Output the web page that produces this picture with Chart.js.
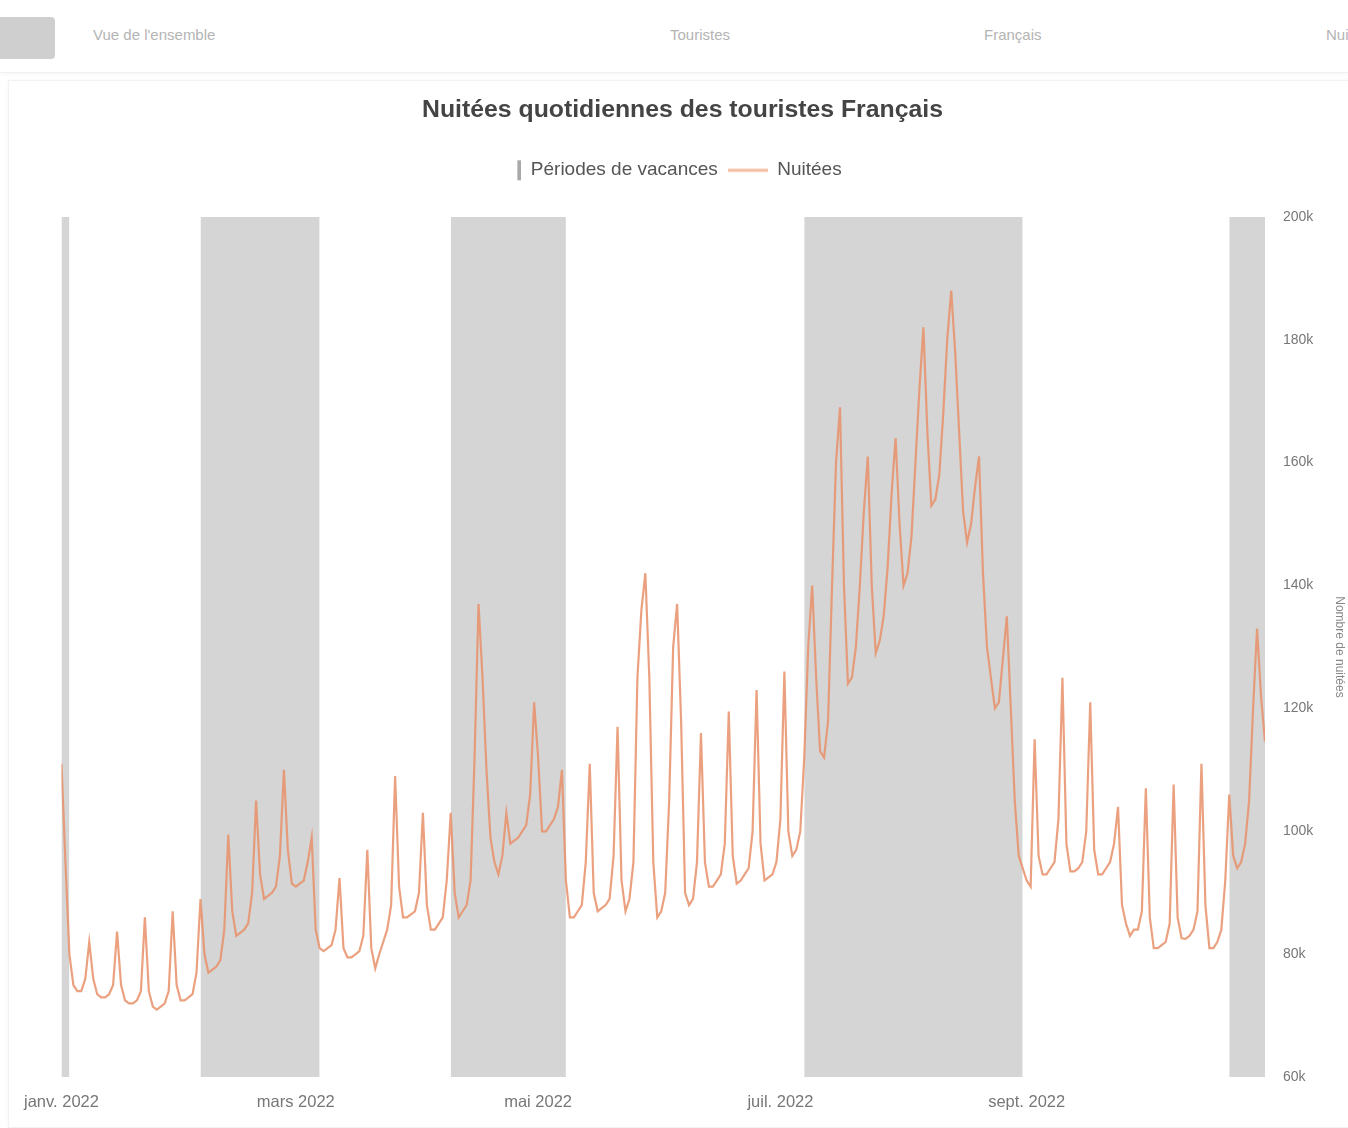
<!DOCTYPE html>
<html lang="fr">
<head>
<meta charset="utf-8">
<title>Nuitées quotidiennes des touristes Français</title>
<script src="https://cdn.jsdelivr.net/npm/chart.js@4.4.1/dist/chart.umd.min.js"></script>
<style>
  html, body { margin: 0; padding: 0; background: #fff; width: 1348px; height: 1128px; overflow: hidden;
    font-family: 'Liberation Sans', Arial, Helvetica, sans-serif; }
  .nav { position: absolute; left: 0; top: 0; width: 1348px; height: 72px; border-bottom: 1px solid #f1f1f1;
    box-shadow: 0 2px 4px rgba(0,0,0,0.03); }
  .nav .btn { position: absolute; left: 0; top: 17px; width: 55px; height: 42px; background: #cfcfcf; border-radius: 0 4px 4px 0; }
  .nav span { position: absolute; top: 26px; font-size: 15px; color: #b4b4b4; white-space: nowrap; }
  .card { position: absolute; left: 8px; top: 80px; width: 1347px; height: 1046px; background: #fff;
    border: 1px solid #f2f2f2; box-shadow: 0 0 4px rgba(0,0,0,0.04); }
  #chart { display: block; }
</style>
</head>
<body>
<div class="nav">
  <div class="btn"></div>
  <span style="left:93px">Vue de l'ensemble</span>
  <span style="left:670px">Touristes</span>
  <span style="left:984px">Français</span>
  <span style="left:1326px">Nuitées</span>
</div>
<div class="card">
  <canvas id="chart" width="1347" height="1046"></canvas>
</div>
<script>
// Premier jour de la série quotidienne
const firstDay = '2022-01-01';

// Nuitées quotidiennes (en milliers), du 1er janvier au 31 octobre 2022
const nuitees = [
  111, 95, 80, 75, 74, 74, 76,
  82, 76, 73.5, 73, 73, 73.5, 75,
  83.7, 75, 72.5, 72, 72, 72.5, 74,
  86, 74, 71.5, 71, 71.5, 72, 74,
  87, 75, 72.5, 72.5, 73, 73.5, 77,
  89, 80, 77, 77.5, 78, 79, 84,
  99.5, 87, 83, 83.5, 84, 85, 90,
  105, 93, 89, 89.5, 90, 91, 96,
  110, 97, 91.5, 91, 91.5, 92, 95,
  99, 84, 81, 80.5, 81, 81.5, 84,
  92.4, 81, 79.5, 79.5, 80, 80.5, 83,
  97, 81, 77.7, 80, 82, 84, 88,
  109, 91, 86, 86, 86.5, 87, 90,
  103, 88, 84, 84, 85, 86, 92,
  103, 90, 86, 87, 88, 92, 112,
  137, 125, 110, 99, 95, 93, 96,
  103, 98, 98.5, 99, 100, 101, 106,
  121, 112, 100, 100, 101, 102, 104,
  110, 92, 86, 86, 87, 88, 95,
  111, 90, 87, 87.5, 88, 89, 96,
  117, 92, 87, 89, 95, 125, 136,
  142, 125, 95, 86, 87, 90, 105,
  130, 137, 118, 90, 88, 89, 95,
  116, 95, 91, 91, 92, 93, 98,
  119.5, 96, 91.5, 92, 93, 94, 100,
  123, 98, 92, 92.5, 93, 95, 102,
  126, 100, 96, 97, 100, 112, 130,
  140, 125, 113, 112, 118, 140, 160,
  169, 140, 124, 125, 130, 140, 152,
  161, 140, 129, 131, 135, 143, 155,
  164, 150, 140, 142, 148, 160, 172,
  182, 165, 153, 154, 158, 168, 180,
  188, 178, 165, 152, 147, 150, 156,
  161, 142, 130, 125, 120, 121, 128,
  135, 120, 105, 96, 94, 92, 91,
  115, 96, 93, 93, 94, 95, 102,
  125, 98, 93.5, 93.5, 94, 95, 100,
  121, 97, 93, 93, 94, 95, 98,
  104, 88, 85, 83, 84, 84, 87,
  107, 86, 81, 81, 81.5, 82, 85,
  107.6, 86, 82.6, 82.5, 83, 84, 87,
  111, 88, 81, 81, 82, 84, 92,
  106, 96, 94, 95, 98, 105, 120,
  133, 122, 114.6
];

// Périodes de vacances scolaires (début, fin)
const vacancesDebut = ['2021-12-18', '2022-02-05', '2022-04-09', '2022-07-07', '2022-10-22'];
const vacancesFin   = ['2022-01-03', '2022-03-07', '2022-05-08', '2022-08-31', '2022-11-07'];

// Graduations de l'axe des dates
const moisDates  = ['2022-01-01', '2022-03-01', '2022-05-01', '2022-07-01', '2022-09-01'];
const moisLabels = ['janv. 2022', 'mars 2022', 'mai 2022', 'juil. 2022', 'sept. 2022'];

// Graduations de l'axe des nuitées (en milliers)
const yMin = 60, yMax = 200, yStep = 20;

const DAY = 86400000;
const dayIndex = s => Math.round((Date.parse(s + 'T00:00:00Z') - Date.parse(firstDay + 'T00:00:00Z')) / DAY);

const seriePoints = nuitees.map((v, i) => ({ x: i, y: v }));

const bandePoints = [];
vacancesDebut.forEach((d, i) => {
  const a = dayIndex(d), b = dayIndex(vacancesFin[i]);
  bandePoints.push({ x: a, y: 1 }, { x: b, y: 1 }, { x: b, y: null });
});

const moisValues = moisDates.map(dayIndex);

const orange = 'rgba(231, 145, 105, 0.85)';
const gris = '#d5d5d5';

// Petits symboles de légende : barre verticale grise et trait orange
function symbole(draw) {
  const c = document.createElement('canvas');
  c.width = 40; c.height = 22;
  draw(c.getContext('2d'));
  return c;
}
const symboleVacances = symbole(g => { g.fillStyle = '#a8a8a8'; g.fillRect(36, 1, 4, 20); });
const symboleNuitees = symbole(g => { g.fillStyle = 'rgba(240, 170, 130, 0.75)'; g.fillRect(0, 9.5, 40, 3); });

// Espace supplémentaire sous la légende et recentrage des items
const legendeEspace = {
  id: 'legendeEspace',
  beforeInit(chart) {
    const legend = chart.legend;
    const fit = legend.fit;
    legend.fit = function () {
      fit.call(this);
      this.height += 27;
    };
  },
  afterLayout(chart) {
    chart.legend.left -= 21;
    chart.legend.right -= 21;
  }
};

Chart.defaults.font.family = "'Liberation Sans', Arial, Helvetica, sans-serif";
Chart.defaults.color = '#666';

new Chart(document.getElementById('chart'), {
  type: 'line',
  plugins: [legendeEspace],
  data: {
    datasets: [
      {
        label: 'Périodes de vacances',
        data: bandePoints,
        yAxisID: 'yBande',
        borderWidth: 0,
        borderColor: gris,
        backgroundColor: gris,
        fill: 'origin',
        pointRadius: 0,
        spanGaps: false,
        order: 2
      },
      {
        label: 'Nuitées',
        data: seriePoints,
        yAxisID: 'y',
        borderColor: orange,
        backgroundColor: orange,
        borderWidth: 2.2,
        pointRadius: 0,
        tension: 0,
        fill: false,
        order: 1
      }
    ]
  },
  options: {
    responsive: false,
    animation: false,
    layout: { padding: { left: 0, right: 0, top: 4, bottom: 0 } },
    plugins: {
      title: {
        display: true,
        text: 'Nuitées quotidiennes des touristes Français',
        color: '#444',
        font: { size: 24.8, weight: 'bold' },
        padding: { top: 10, bottom: 26 }
      },
      legend: {
        display: true,
        labels: {
          color: '#555',
          font: { size: 19 },
          usePointStyle: true,
          pointStyleWidth: 40,
          boxHeight: 14,
          padding: 10,
          sort: (a, b) => a.datasetIndex - b.datasetIndex,
          generateLabels: chart => {
            const items = Chart.defaults.plugins.legend.labels.generateLabels(chart);
            items.forEach(it => {
              it.pointStyle = it.datasetIndex === 0 ? symboleVacances : symboleNuitees;
              it.rotation = 0;
            });
            return items;
          }
        }
      },
      tooltip: { enabled: false }
    },
    scales: {
      x: {
        type: 'linear',
        min: 0,
        max: nuitees.length - 1,
        grid: { display: false, drawTicks: false },
        border: { display: false },
        afterBuildTicks: scale => { scale.ticks = moisValues.map(v => ({ value: v })); },
        ticks: {
          autoSkip: false,
          maxRotation: 0,
          padding: 15,
          color: '#777',
          font: { size: 16.5 },
          callback: value => moisLabels[moisValues.indexOf(value)] ?? ''
        }
      },
      y: {
        position: 'right',
        min: yMin,
        max: yMax,
        grid: { display: false, drawTicks: false },
        border: { display: false },
        afterFit: scale => { scale.width = 91; },
        ticks: {
          stepSize: yStep,
          padding: 18,
          color: '#777',
          font: { size: 14 },
          callback: v => v + 'k'
        },
        title: {
          display: true,
          text: 'Nombre de nuitées',
          color: '#888',
          font: { size: 12 },
          padding: { top: 9, bottom: 5 }
        }
      },
      yBande: {
        display: false,
        min: 0,
        max: 1
      }
    }
  }
});
</script>
</body>
</html>
